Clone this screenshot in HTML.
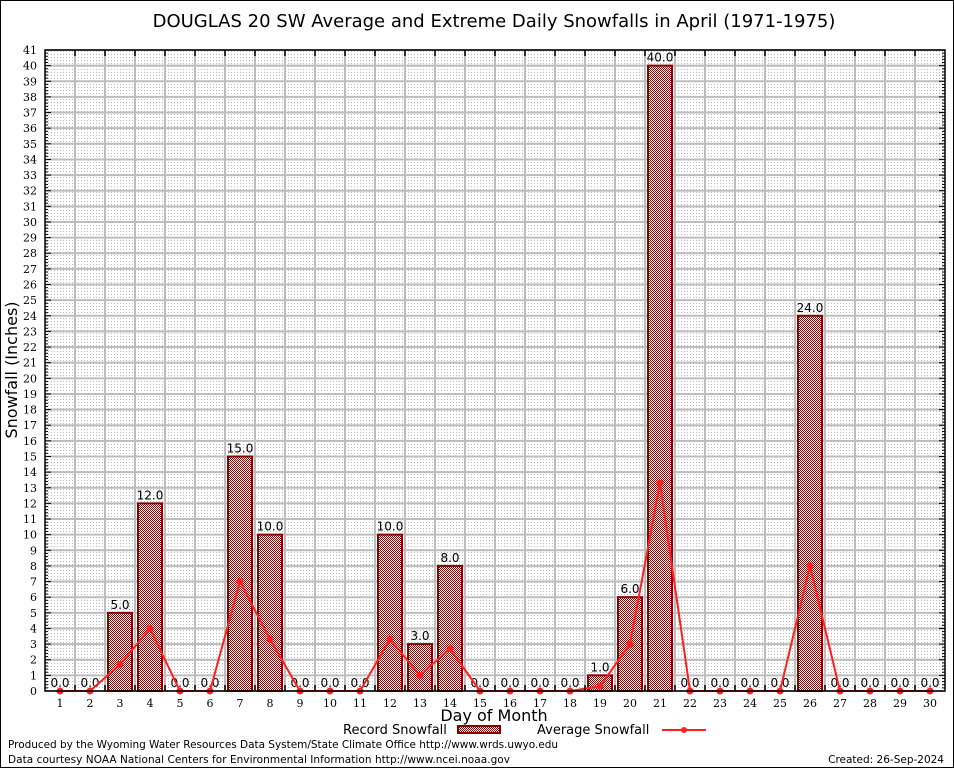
<!DOCTYPE html>
<html><head><meta charset="utf-8"><style>
body{margin:0;background:#fff;}
svg{display:block;font-family:"DejaVu Sans","Liberation Sans",sans-serif;}
</style></head><body>
<svg id="chart" width="954" height="768" viewBox="0 0 954 768">
<defs>
<pattern id="dots" width="3" height="3" patternUnits="userSpaceOnUse"><rect x="0" y="0" width="1" height="1" fill="#bbbbbb"/></pattern>
<pattern id="hatch" width="2" height="2" patternUnits="userSpaceOnUse"><rect width="2" height="2" fill="#fff"/><rect width="1" height="1" fill="#a00000"/><rect x="1" y="1" width="1" height="1" fill="#a00000"/></pattern>
</defs>
<rect x="0.5" y="0.5" width="953" height="767" fill="#fff" stroke="#000"/>
<text x="494" y="27" font-size="18" text-anchor="middle">DOUGLAS 20 SW Average and Extreme Daily Snowfalls in April (1971-1975)</text>
<rect x="45" y="50" width="900" height="641" fill="url(#dots)"/>
<g id="grid"></g>
<g id="bars"></g>
<g id="line"></g>
<g id="axes"></g>
<text x="17" y="370" font-size="16" text-anchor="middle" transform="rotate(-90 17 370)">Snowfall (Inches)</text>
<text x="494" y="721" font-size="16" text-anchor="middle">Day of Month</text>
<g>
<text x="343" y="734" font-size="13">Record Snowfall</text>
<rect x="458" y="726" width="42" height="7" fill="url(#hatch)" stroke="#8b0000" stroke-width="2"/>
</g>
<g>
<text x="537" y="734" font-size="13">Average Snowfall</text>
<line x1="662" y1="730" x2="706" y2="730" stroke="#ff2020" stroke-width="2"/>
<circle cx="684" cy="730" r="3" fill="#ff2020"/>
</g>
<text x="8" y="748" font-size="10.5" textLength="550">Produced by the Wyoming Water Resources Data System/State Climate Office http://www.wrds.uwyo.edu</text>
<text x="8" y="763" font-size="10.5" textLength="502">Data courtesy NOAA National Centers for Environmental Information http://www.ncei.noaa.gov</text>
<text x="944" y="763" font-size="10.5" text-anchor="end">Created: 26-Sep-2024</text>
</svg>
<script>
const days = [1,2,3,4,5,6,7,8,9,10,11,12,13,14,15,16,17,18,19,20,21,22,23,24,25,26,27,28,29,30];
const recordSnow = [0,0,5,12,0,0,15,10,0,0,0,10,3,8,0,0,0,0,1,6,40,0,0,0,0,24,0,0,0,0];
const avgSnow = [0,0,1.7,4.0,0,0,7.0,3.3,0,0,0,3.3,1.0,2.7,0,0,0,0,0.3,3.0,13.3,0,0,0,0,8.0,0,0,0,0];
const yTicks = [0,1,2,3,4,5,6,7,8,9,10,11,12,13,14,15,16,17,18,19,20,21,22,23,24,25,26,27,28,29,30,31,32,33,34,35,36,37,38,39,40,41];

const L=45,R=945,T=50,B=691,YMAX=41;
const xs = d => L + (R-L)/days.length*(d-0.5);
const ys = v => B - (B-T)*v/YMAX;
const NS='http://www.w3.org/2000/svg';
function mk(tag, attrs, parent){const e=document.createElementNS(NS,tag);for(const k in attrs)e.setAttribute(k,attrs[k]);parent.appendChild(e);return e;}
const grid=document.getElementById('grid'),bars=document.getElementById('bars'),line=document.getElementById('line'),axes=document.getElementById('axes');
const slot=(R-L)/days.length;
yTicks.forEach(v=>{
  const y=ys(v);
  const g=mk('line',{x1:L,x2:R,y1:y,y2:y,stroke:'#bdbdbd','stroke-width':2},grid);
  
  
  const t=mk('text',{x:37,y:y+4,'font-size':11,'text-anchor':'end','font-family':'"DejaVu Serif","Liberation Serif",serif'},axes);
  t.textContent=v;
  
  
  mk('line',{x1:L,x2:L+6,y1:y,y2:y,stroke:'#000'},axes);
  mk('line',{x1:R-6,x2:R,y1:y,y2:y,stroke:'#000'},axes);
  if(v<YMAX){for(let k=1;k<5;k++){const yy=ys(v+k*0.2);mk('line',{x1:L,x2:L+3,y1:yy,y2:yy,stroke:'#000'},axes);mk('line',{x1:R-3,x2:R,y1:yy,y2:yy,stroke:'#000'},axes);}}
});
for(let i=1;i<days.length;i++){
  const x=L+slot*i;
  const g=mk('line',{x1:x,x2:x,y1:T,y2:B,stroke:'#bdbdbd','stroke-width':2},grid);
  
  
  mk('line',{x1:x,x2:x,y1:T,y2:T+6,stroke:'#000','stroke-width':1.5},axes);
  mk('line',{x1:x,x2:x,y1:B-6,y2:B,stroke:'#000','stroke-width':1.5},axes);
}
days.forEach((d,i)=>{
  const v=recordSnow[i];
  if(v>0){
    const r=mk('rect',{x:xs(d)-12,y:ys(v),width:24,height:B-ys(v),fill:'url(#hatch)',stroke:'#8b0000','stroke-width':2},bars);
    
    
  }
  const t=mk('text',{x:xs(d),y:ys(v)-4,'font-size':12,'text-anchor':'middle'},bars);
  t.textContent=v.toFixed(1);
  
  
  const xl=mk('text',{x:xs(d),y:B+16,'font-size':11,'text-anchor':'middle','font-family':'"DejaVu Serif","Liberation Serif",serif'},axes);
  xl.textContent=d;
  
  
});
const pts=days.map((d,i)=>xs(d)+','+ys(avgSnow[i])).join(' ');
const pl=mk('polyline',{points:pts,fill:'none',stroke:'#ff2020','stroke-width':2},line);


days.forEach((d,i)=>{
  const c=mk('circle',{cx:xs(d),cy:ys(avgSnow[i]),r:3.5,fill:'#ff2020'},line);
  
  
});
const fr=mk('rect',{x:L,y:T,width:R-L,height:B-T,fill:'none',stroke:'#000','stroke-width':1.5},axes);


</script>
</body></html>
